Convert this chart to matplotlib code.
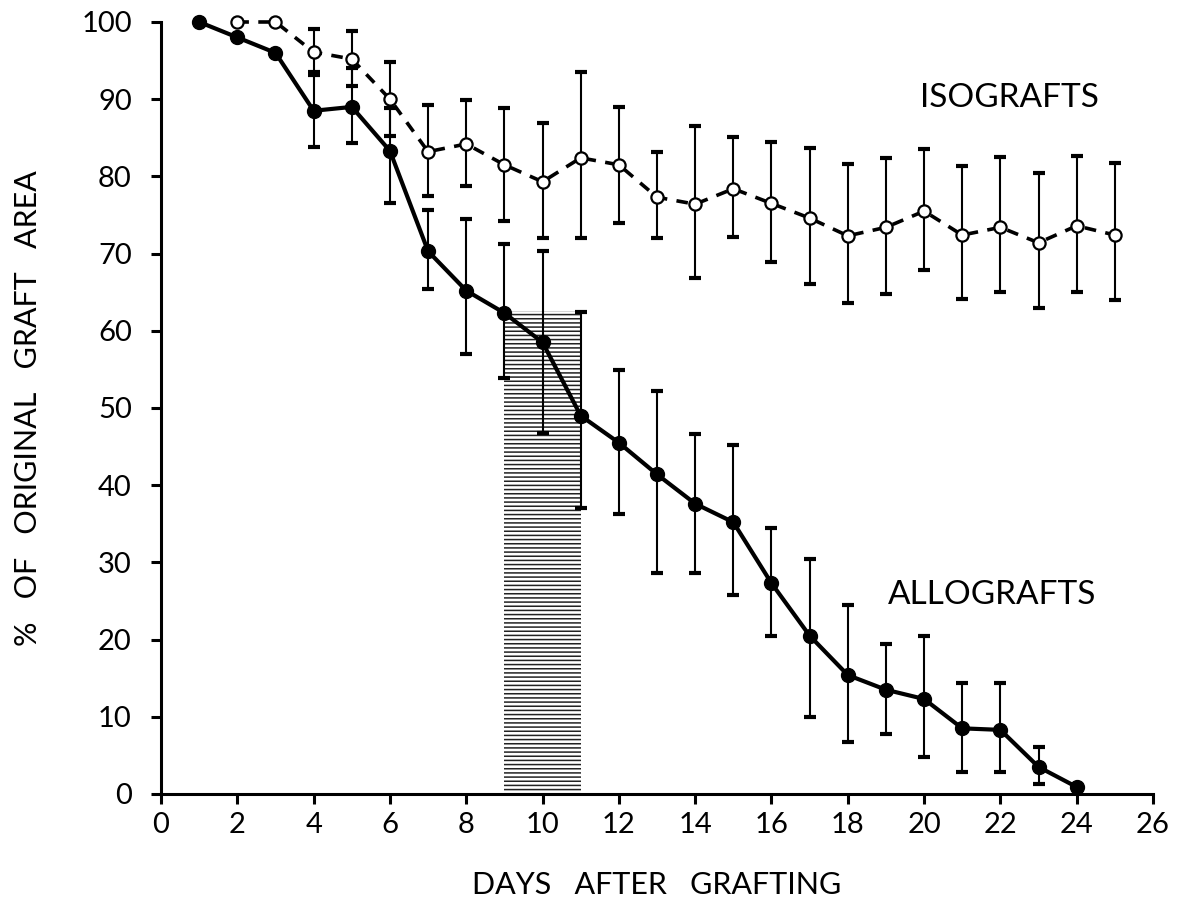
import numpy as np
import matplotlib
matplotlib.use("Agg")
import matplotlib.pyplot as plt

plt.rcParams['font.family'] = ['Lato', 'DejaVu Sans']
plt.rcParams['hatch.linewidth'] = 1.1

nan = np.nan

# ---- data ----
allo_days = np.arange(1, 25)
allo_mean = [100, 98, 96, 88.5, 89, 83.3, 70.3, 65.2, 62.3, 58.5, 49, 45.5,
             41.4, 37.6, 35.2, 27.3, 20.5, 15.4, 13.5, 12.3, 8.5, 8.3, 3.5, 0.9]
allo_hi = [nan, nan, nan, 93.5, 94, 88.8, 75.6, 74.5, 71.2, 70.3, 62.4, 54.9,
           52.2, 46.6, 45.2, 34.5, 30.4, 24.5, 19.4, 20.5, 14.4, 14.4, 6.1, nan]
allo_lo = [nan, nan, nan, 83.8, 84.3, 76.5, 65.4, 57.0, 53.9, 46.8, 37.0, 36.3,
           28.6, 28.6, 25.8, 20.5, 10.0, 6.7, 7.8, 4.8, 2.8, 2.8, 1.3, nan]

iso_days = np.arange(2, 26)
iso_mean = [100, 100, 96.1, 95.2, 90, 83.2, 84.2, 81.5, 79.3, 82.4, 81.5, 77.3,
            76.4, 78.4, 76.5, 74.6, 72.3, 73.4, 75.5, 72.4, 73.4, 71.4, 73.6, 72.4]
iso_hi = [nan, nan, 99.1, 98.8, 94.8, 89.2, 89.9, 88.9, 86.9, 93.5, 89.0, 83.2,
          86.5, 85.1, 84.5, 83.7, 81.6, 82.4, 83.5, 81.3, 82.5, 80.4, 82.6, 81.7]
iso_lo = [nan, nan, 93.1, 91.7, 85.2, 77.5, 78.8, 74.2, 72.0, 72.0, 74.0, 72.0,
          66.8, 72.2, 68.9, 66.1, 63.6, 64.8, 67.9, 64.1, 65.0, 63.0, 65.0, 64.0]

shade_days = [9, 11]
shade_top = 62.5

x_ticks = list(range(0, 27, 2))
y_ticks = list(range(0, 101, 10))

# ---- figure ----
fig = plt.figure(figsize=(11.85, 9.05), dpi=100)
ax = fig.add_axes([0.1359, 0.1227, 0.8371, 0.8530])

ax.fill_between(shade_days, 0, shade_top, facecolor='white', edgecolor='#222222',
                hatch='----', linewidth=0, zorder=1)

def draw_err(days, mean, hi, lo):
    days = np.asarray(days, float)
    mean = np.asarray(mean, float)
    hi = np.asarray(hi, float)
    lo = np.asarray(lo, float)
    ok = ~np.isnan(hi)
    ax.errorbar(days[ok], mean[ok], yerr=[mean[ok] - lo[ok], hi[ok] - mean[ok]],
                fmt='none', ecolor='black', elinewidth=1.5, capsize=4.5,
                capthick=3, zorder=2, clip_on=False)

draw_err(allo_days, allo_mean, allo_hi, allo_lo)
draw_err(iso_days, iso_mean, iso_hi, iso_lo)

ax.plot(iso_days, iso_mean, color='black', lw=2.6, ls=(0, (3.2, 2.6)),
        marker='o', ms=8.8, mfc='white', mec='black', mew=1.6, zorder=3,
        clip_on=False)
ax.plot(allo_days, allo_mean, color='black', lw=3, marker='o', ms=10,
        mfc='black', mec='black', zorder=4, clip_on=False)

ax.set_xlim(0, 26)
ax.set_ylim(0, 100)
ax.set_xticks(x_ticks)
ax.set_yticks(y_ticks)
for s in ['top', 'right']:
    ax.spines[s].set_visible(False)
for s in ['left', 'bottom']:
    ax.spines[s].set_linewidth(2.2)
ax.tick_params(axis='both', direction='out', length=7, width=2.2,
               labelsize=21)
ax.tick_params(axis='y', pad=14)
ax.tick_params(axis='x', pad=6)

ax.set_xlabel('DAYS   AFTER   GRAFTING', fontsize=22, labelpad=24)
ax.set_ylabel('%   OF   ORIGINAL   GRAFT   AREA', fontsize=22, labelpad=28)

ax.text(19.9, 90.2, 'ISOGRAFTS', fontsize=24, ha='left', va='center')
ax.text(19.05, 25.8, 'ALLOGRAFTS', fontsize=24, ha='left', va='center')

fig.savefig('out.png', dpi=100, facecolor='white')
